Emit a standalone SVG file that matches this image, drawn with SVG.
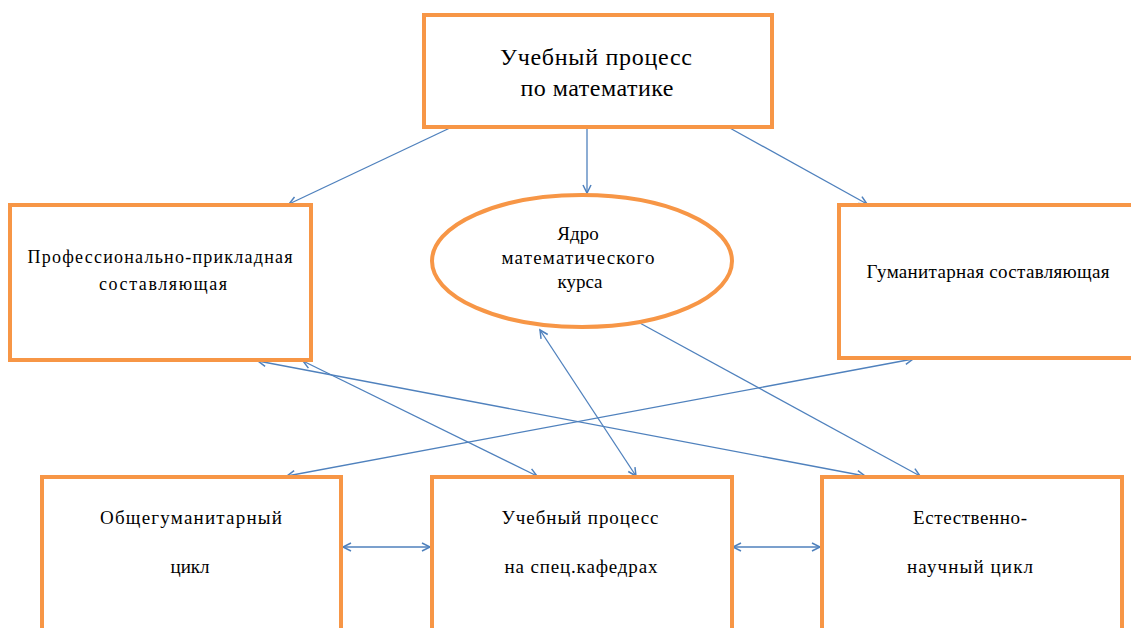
<svg xmlns="http://www.w3.org/2000/svg" width="1131" height="628" viewBox="0 0 1131 628">
<style>
.box{fill:#fff;stroke:#F79646;stroke-width:4}
.t{font-family:'Liberation Serif','DejaVu Serif',serif;fill:#000;text-anchor:middle}
.c{fill:none;stroke:#4F81BD;stroke-width:1.3}
</style>
<defs>
<marker id="ah" markerUnits="userSpaceOnUse" markerWidth="12" markerHeight="12" refX="9" refY="6" orient="auto-start-reverse" viewBox="0 0 12 12">
<polyline points="1,2 9,6 1,10" fill="none" stroke="#4F81BD" stroke-width="1.5"/>
</marker>
</defs>
<rect width="1131" height="628" fill="#fff"/>
<g id="connectors">
<line class="c" x1="452" y1="127" x2="289" y2="204" marker-end="url(#ah)"/>
<line class="c" x1="587" y1="127" x2="587" y2="193" marker-end="url(#ah)"/>
<line class="c" x1="728" y1="127" x2="867" y2="204" marker-end="url(#ah)"/>
<line class="c" x1="258" y1="361" x2="865" y2="476" marker-start="url(#ah)" marker-end="url(#ah)"/>
<line class="c" x1="303" y1="361" x2="537" y2="476" marker-start="url(#ah)" marker-end="url(#ah)"/>
<line class="c" x1="540" y1="330" x2="636" y2="476" marker-start="url(#ah)" marker-end="url(#ah)"/>
<line class="c" x1="638" y1="322" x2="920" y2="476" marker-end="url(#ah)"/>
<line class="c" x1="287" y1="476" x2="913" y2="359" marker-start="url(#ah)" marker-end="url(#ah)"/>
<line class="c" x1="343" y1="547" x2="430" y2="547" marker-start="url(#ah)" marker-end="url(#ah)"/>
<line class="c" x1="733" y1="547" x2="820" y2="547" marker-start="url(#ah)" marker-end="url(#ah)"/>
</g>
<g id="top">
<rect class="box" x="424" y="15" width="348" height="112"/>
<text class="t" x="596" y="65" font-size="24" textLength="192" lengthAdjust="spacing">Учебный процесс</text>
<text class="t" x="597" y="96" font-size="24" textLength="153" lengthAdjust="spacing">по математике</text>
</g>
<g id="prof">
<rect class="box" x="10" y="205" width="301" height="155"/>
<text class="t" x="160" y="263" font-size="18" textLength="265" lengthAdjust="spacing">Профессионально-прикладная</text>
<text class="t" x="163" y="290" font-size="18" textLength="128" lengthAdjust="spacing">составляющая</text>
</g>
<g id="core">
<ellipse class="box" cx="582" cy="261" rx="150" ry="66"/>
<text class="t" x="578" y="240" font-size="19">Ядро</text>
<text class="t" x="578" y="264" font-size="19" textLength="153" lengthAdjust="spacing">математического</text>
<text class="t" x="580" y="288" font-size="19">курса</text>
</g>
<g id="hum">
<rect class="box" x="839" y="205" width="300" height="153"/>
<text class="t" x="988" y="278" font-size="19" textLength="243" lengthAdjust="spacing">Гуманитарная составляющая</text>
</g>
<g id="gen">
<rect class="box" x="42" y="477" width="299" height="170"/>
<text class="t" x="191" y="524" font-size="19" textLength="182" lengthAdjust="spacing">Общегуманитарный</text>
<text class="t" x="190" y="573" font-size="19">цикл</text>
</g>
<g id="spec">
<rect class="box" x="432" y="477" width="300" height="170"/>
<text class="t" x="580" y="524" font-size="19" textLength="157" lengthAdjust="spacing">Учебный процесс</text>
<text class="t" x="581" y="573" font-size="19" textLength="153" lengthAdjust="spacing">на спец.кафедрах</text>
</g>
<g id="nat">
<rect class="box" x="822" y="477" width="300" height="170"/>
<text class="t" x="970" y="524" font-size="19" textLength="114" lengthAdjust="spacing">Естественно-</text>
<text class="t" x="970" y="573" font-size="19" textLength="126" lengthAdjust="spacing">научный цикл</text>
</g>
</svg>
